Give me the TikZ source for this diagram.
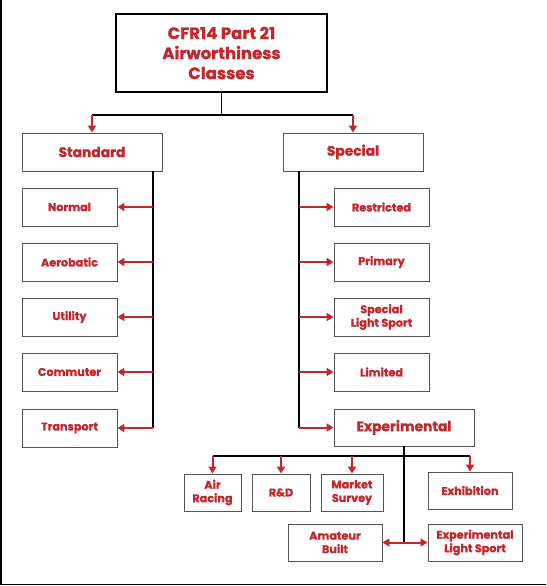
\documentclass[tikz,border=0pt]{standalone}
\usepackage{fontspec}
\setmainfont{Poppins}[BoldFeatures={FakeBold=1.2}]
\usetikzlibrary{arrows.meta}
\definecolor{cred}{HTML}{C1272D}
\definecolor{bgray}{HTML}{555555}
\begin{document}
\begin{tikzpicture}[x=1pt,y=-1pt,
  box/.style={draw=bgray,line width=0.9pt,rectangle,inner sep=0pt,align=center,
    text=cred,font=\bfseries\fontsize{11.2}{13.5}\selectfont},
  bigbox/.style={box,font=\bfseries\fontsize{13.8}{16}\selectfont},
  titlebox/.style={box,draw=black,line width=1.2pt,font=\bfseries\fontsize{16.5}{20}\selectfont},
  blk/.style={draw=black,line width=1.1pt},
  rarr/.style={draw=cred,line width=2pt,-{Triangle[length=7pt,width=8pt]}},
  rdbl/.style={draw=cred,line width=2pt,{Triangle[length=7pt,width=8pt]}-{Triangle[length=7pt,width=8pt]}}
]
\useasboundingbox (0,0) rectangle (546,586);
\draw[black,line width=1.5pt] (0.75,0) coordinate (bl0) -- (0.75,584.5) coordinate (bl1) -- (546,584.5) coordinate (bl2);

\node[titlebox,minimum width=211pt,minimum height=78pt] (title) at (221.5,53) {CFR14 Part 21\\Airworthiness\\Classes};
\node[bigbox,minimum width=140pt,minimum height=38pt] (standard) at (92,152) {Standard};
\node[bigbox,minimum width=140pt,minimum height=38pt] (special) at (353,152) {Special};

\node[box,minimum width=95pt,minimum height=38pt] (normal) at (69.5,207) {Normal};
\node[box,minimum width=95pt,minimum height=38pt] (aerobatic) at (69.5,262) {Aerobatic};
\node[box,minimum width=95pt,minimum height=38pt] (utility) at (69.5,317) {Utility};
\node[box,minimum width=95pt,minimum height=38pt] (commuter) at (69.5,372) {Commuter};
\node[box,minimum width=95pt,minimum height=38pt] (transport) at (69.5,428) {Transport};

\node[box,minimum width=95pt,minimum height=38pt] (restricted) at (381.5,207) {Restricted};
\node[box,minimum width=95pt,minimum height=38pt] (primary) at (381.5,262) {Primary};
\node[box,minimum width=95pt,minimum height=38pt] (sls) at (381.5,317) {Special\\Light Sport};
\node[box,minimum width=95pt,minimum height=38pt] (limited) at (381.5,372) {Limited};
\node[bigbox,minimum width=140pt,minimum height=37pt] (experimental) at (404,427.5) {Experimental};

\node[box,minimum width=57pt,minimum height=37pt] (airracing) at (212.5,492.5) {Air\\Racing};
\node[box,minimum width=58pt,minimum height=37pt] (rd) at (281,492.5) {R\&D};
\node[box,minimum width=62pt,minimum height=37pt] (market) at (352,492.5) {Market\\Survey};
\node[box,minimum width=84pt,minimum height=37pt] (exhibition) at (470,490.5) {Exhibition};
\node[box,minimum width=94pt,minimum height=37pt] (amateur) at (335,542.5) {Amateur\\Built};
\node[box,minimum width=94pt,minimum height=37pt] (els) at (475,542.5) {Experimental\\Light Sport};

% top branch
\coordinate (topbar) at (0,115);
\draw[blk] (title.south) -- (title.south |- topbar);
\draw[blk] (standard.north |- topbar) -- (special.north |- topbar);
\draw[rarr] (standard.north |- topbar) -- (standard.north);
\draw[rarr] (special.north |- topbar) -- (special.north);

% standard spine
\coordinate (sspine) at (153,0);
\draw[blk] (standard.south -| sspine) -- (transport -| sspine);
\foreach \n in {normal,aerobatic,utility,commuter,transport}
  \draw[rarr] (\n -| sspine) -- (\n.east);

% special spine
\coordinate (pspine) at (299,0);
\draw[blk] (special.south -| pspine) -- (experimental -| pspine);
\foreach \n in {restricted,primary,sls,limited,experimental}
  \draw[rarr] (\n -| pspine) -- (\n.west);

% experimental branch
\coordinate (ebar) at (0,456);
\draw[blk] (experimental.south) -- (experimental.south |- amateur);
\draw[blk] (airracing.north |- ebar) -- (exhibition.north |- ebar);
\foreach \n in {airracing,rd,market,exhibition}
  \draw[rarr] (\n.north |- ebar) -- (\n.north);
\draw[rdbl] (amateur.east) -- (els.west);
\end{tikzpicture}
\end{document}
